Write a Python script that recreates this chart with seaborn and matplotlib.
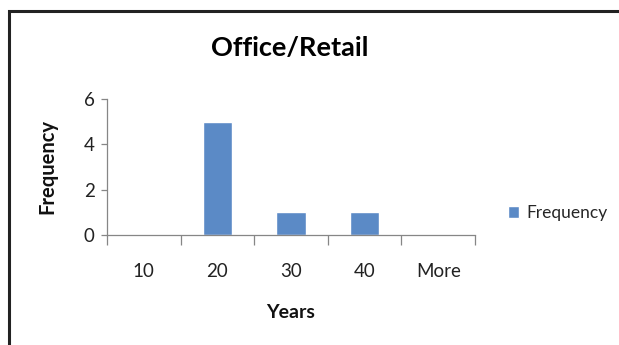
import matplotlib
matplotlib.use("Agg")
import matplotlib.pyplot as plt
from matplotlib.patches import Rectangle
import seaborn as sns
import pandas as pd

# Histogram bins and counts
bins = ["10", "20", "30", "40", "More"]
counts = [0, 5, 1, 1, 0]
y_ticks = [0, 2, 4, 6]

title = "Office/Retail"
x_label = "Years"
y_label = "Frequency"
series_name = "Frequency"

bar_color = "#5B8AC6"
axis_color = "#868686"

sns.set_theme(style="white")
plt.rcParams["font.family"] = ["Lato", "DejaVu Sans"]

df = pd.DataFrame({"bin": bins, "count": counts})

fig = plt.figure(figsize=(6.19, 3.45), dpi=100)
ax = fig.add_axes([107 / 619, 1 - 235 / 345, (475 - 107) / 619, (235 - 99) / 345])

sns.barplot(data=df, x="bin", y="count", color=bar_color, width=0.4,
            saturation=1, ax=ax, label=series_name)

ax.set_ylim(0, 6)
ax.set_xlim(-0.5, len(bins) - 0.5)
ax.set_yticks(y_ticks)
ax.set_yticklabels([str(v) for v in y_ticks], fontsize=13.5, color="#222222")

# category boundaries carry the tick marks; labels sit at the centres
ax.set_xticks([i - 0.5 for i in range(len(bins) + 1)], minor=False)
ax.set_xticklabels([""] * (len(bins) + 1))
ax.set_xticks(range(len(bins)), minor=True)
ax.set_xticklabels(bins, minor=True, fontsize=13.5, color="#222222")
ax.tick_params(axis="x", which="major", direction="out", length=7,
               width=0.9, color=axis_color, bottom=True)
ax.tick_params(axis="x", which="minor", length=0, pad=20, bottom=True)
ax.tick_params(axis="y", direction="out", length=4, width=0.9,
               color=axis_color, left=True, pad=5)

for side in ["top", "right"]:
    ax.spines[side].set_visible(False)
for side in ["left", "bottom"]:
    ax.spines[side].set_color(axis_color)
    ax.spines[side].set_linewidth(0.9)

ax.set_xlabel("")
ax.set_ylabel("")
fig.text(291 / 619, 1 - 312 / 345, x_label, ha="center", va="center",
         fontsize=14, fontweight="bold", color="#111111")
fig.text(47 / 619, 1 - 167 / 345, y_label, ha="center", va="center",
         rotation=90, fontsize=14.5, fontweight="bold", color="#111111")
fig.text(290 / 619, 1 - 48 / 345, title, ha="center", va="center",
         fontsize=19.5, fontweight="bold", color="#000000")

leg = ax.legend(loc="center left", bbox_to_anchor=(492 / 619, 1 - 213 / 345),
                bbox_transform=fig.transFigure, frameon=False, fontsize=12.5,
                handlelength=0.65, handleheight=0.65, handletextpad=0.45)

# chart border
fig.add_artist(Rectangle((9 / 619, -0.2), 1.2, 1.2 - 11 / 345 + 0.0,
                         transform=fig.transFigure, fill=False,
                         edgecolor="#222222", linewidth=2.2))

fig.savefig("out.png", dpi=100, facecolor="white")
